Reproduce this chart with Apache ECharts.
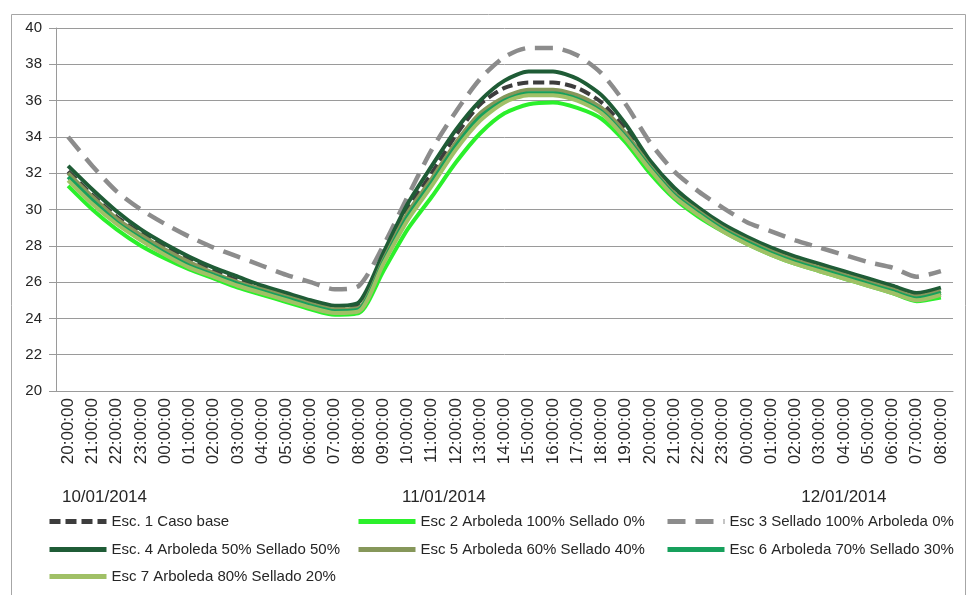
<!DOCTYPE html>
<html>
<head>
<meta charset="utf-8">
<script src="https://cdn.jsdelivr.net/npm/echarts@6/dist/echarts.min.js"></script>
<style>
  html, body { margin: 0; padding: 0; background: #ffffff; }
  #chart { width: 968px; height: 595px; }
</style>
</head>
<body>
<div id="chart"></div>
<script>
// Hourly temperature (°C) per scenario, 10/01/2014 20:00 to 12/01/2014 08:00
const hours = [
  '20:00:00','21:00:00','22:00:00','23:00:00','00:00:00','01:00:00','02:00:00','03:00:00',
  '04:00:00','05:00:00','06:00:00','07:00:00','08:00:00','09:00:00','10:00:00','11:00:00',
  '12:00:00','13:00:00','14:00:00','15:00:00','16:00:00','17:00:00','18:00:00','19:00:00',
  '20:00:00','21:00:00','22:00:00','23:00:00','00:00:00','01:00:00','02:00:00','03:00:00',
  '04:00:00','05:00:00','06:00:00','07:00:00','08:00:00'
];
const dayLabels = ['10/01/2014', '11/01/2014', '12/01/2014'];
const dayFirstIdx = [0, 4, 28];
const dayLastIdx = [3, 27, 36];

const seriesNames = [
  'Esc. 1 Caso base',
  'Esc 2 Arboleda 100% Sellado 0%',
  'Esc 3 Sellado 100% Arboleda 0%',
  'Esc. 4 Arboleda 50% Sellado 50%',
  'Esc 5 Arboleda 60% Sellado 40%',
  'Esc 6 Arboleda 70% Sellado 30%',
  'Esc 7 Arboleda 80% Sellado 20%'
];

const esc1 = [32.1,30.8,29.6,28.7,27.9,27.2,26.6,26.1,25.7,25.3,24.9,24.6,24.7,27.4,30.0,32.0,34.1,35.8,36.7,37.0,37.0,36.7,35.9,34.4,32.5,31.0,30.0,29.1,28.4,27.8,27.3,26.9,26.5,26.1,25.7,25.3,25.6];
const esc2 = [31.3,30.0,28.9,28.0,27.3,26.7,26.2,25.7,25.3,24.9,24.5,24.2,24.3,26.6,28.9,30.7,32.6,34.2,35.3,35.8,35.9,35.6,35.0,33.7,32.0,30.6,29.6,28.8,28.1,27.5,27.0,26.6,26.2,25.8,25.4,24.95,25.15];
const esc3 = [34.0,32.4,31.0,30.0,29.2,28.5,27.9,27.4,26.9,26.4,26.0,25.6,25.8,28.0,30.7,33.3,35.4,37.2,38.4,38.9,38.9,38.5,37.5,35.8,33.7,32.1,31.0,30.1,29.3,28.8,28.3,27.9,27.5,27.1,26.8,26.3,26.6];
const esc4 = [32.4,31.1,29.9,28.9,28.1,27.4,26.8,26.3,25.8,25.4,25.0,24.7,24.9,27.6,30.3,32.4,34.4,36.0,37.1,37.6,37.6,37.2,36.3,34.7,32.7,31.2,30.1,29.2,28.5,27.9,27.4,27.0,26.6,26.2,25.8,25.4,25.7];
const esc5 = [32.0,30.7,29.5,28.6,27.8,27.1,26.5,26.0,25.6,25.2,24.8,24.5,24.6,27.2,29.8,31.7,33.7,35.3,36.2,36.6,36.6,36.3,35.6,34.2,32.4,30.9,29.9,29.0,28.3,27.7,27.2,26.8,26.4,26.0,25.6,25.2,25.5];
const esc6 = [31.8,30.5,29.3,28.4,27.6,26.9,26.4,25.9,25.5,25.1,24.7,24.4,24.5,27.1,29.6,31.5,33.5,35.1,36.0,36.4,36.4,36.1,35.4,34.0,32.3,30.8,29.8,28.9,28.2,27.6,27.1,26.7,26.3,25.9,25.5,25.1,25.4];
const esc7 = [31.6,30.3,29.2,28.3,27.5,26.8,26.3,25.8,25.4,25.0,24.6,24.3,24.4,27.0,29.4,31.3,33.3,34.9,35.9,36.3,36.3,36.0,35.3,33.9,32.2,30.7,29.7,28.8,28.1,27.5,27.0,26.6,26.2,25.8,25.4,25.0,25.3];

const yMin = 20, yMax = 40, yStep = 2;

const allValues = [esc1, esc2, esc3, esc4, esc5, esc6, esc7];
const lineColors = ['#3d3d3d', '#2bf02b', '#8c8c8c', '#1f5c36', '#86975a', '#17a05c', '#a0c066'];
const lineTypes = [[11, 5], 'solid', [18, 10], 'solid', 'solid', 'solid', 'solid'];
const lineWidths = [4, 4, 4.5, 4, 4, 4, 4];

// Legend grid: three columns, three rows (left edge of icon, vertical centre of row)
const legendColX = [47, 356, 665];
const legendRowY = [523, 551, 578];
const legendSlot = [[0, 0], [1, 0], [2, 0], [0, 1], [1, 1], [2, 1], [0, 2]];

const chart = echarts.init(document.getElementById('chart'), null, { renderer: 'canvas' });

const legendFont = { fontFamily: 'Liberation Sans, sans-serif', fontSize: 15, color: '#262626' };

const option = {
  animation: false,
  backgroundColor: '#ffffff',
  grid: { left: 56, right: 15, top: 28, bottom: 204, containLabel: false },
  xAxis: {
    type: 'category', data: hours, boundaryGap: true,
    axisLine: { show: true, lineStyle: { color: '#9a9a9a', width: 1 } },
    axisTick: { show: false },
    axisLabel: { rotate: 90, interval: 0, margin: 7, color: '#262626',
      fontFamily: 'Liberation Sans, sans-serif', fontSize: 17 }
  },
  yAxis: {
    type: 'value', min: yMin, max: yMax, interval: yStep,
    axisLine: { show: true, lineStyle: { color: '#9a9a9a', width: 1 } },
    axisTick: { show: true, length: 7, lineStyle: { color: '#9a9a9a' } },
    splitLine: { show: true, lineStyle: { color: '#9a9a9a', width: 1 } },
    axisLabel: { margin: 14, color: '#262626', fontFamily: 'Liberation Sans, sans-serif', fontSize: 15 }
  },
  legend: seriesNames.map((name, k) => ({
    left: legendColX[legendSlot[k][0]], top: legendRowY[legendSlot[k][1]] - 9,
    itemWidth: 57, itemHeight: 10, padding: 0, selectedMode: false,
    itemStyle: { opacity: 0 },
    lineStyle: { width: 5 },
    textStyle: legendFont, data: [name]
  })),
  series: allValues.map((vals, k) => ({
    name: seriesNames[k], type: 'line', data: vals, symbol: 'none', smooth: 0.25,
    lineStyle: { color: lineColors[k], width: lineWidths[k], type: lineTypes[k], cap: 'butt' },
    itemStyle: { color: lineColors[k] },
    z: 2 + k
  }))
};

chart.setOption(option);

// Day captions centred under each day's group of hours, plus the outer frame
const dayTexts = dayLabels.map((label, d) => {
  const x0 = chart.convertToPixel({ xAxisIndex: 0 }, dayFirstIdx[d]);
  const x1 = chart.convertToPixel({ xAxisIndex: 0 }, dayLastIdx[d]);
  return {
    type: 'text', x: (x0 + x1) / 2, y: 497,
    style: { text: label, fill: '#262626', font: '17px "Liberation Sans", sans-serif',
      align: 'center', verticalAlign: 'middle' }
  };
});

chart.setOption({
  graphic: [
    { type: 'rect', shape: { x: 11.5, y: 14.5, width: 954, height: 600 }, silent: true,
      style: { fill: 'none', stroke: '#a6a6a6', lineWidth: 1 }, z: -1 }
  ].concat(dayTexts)
});
</script>
</body>
</html>
